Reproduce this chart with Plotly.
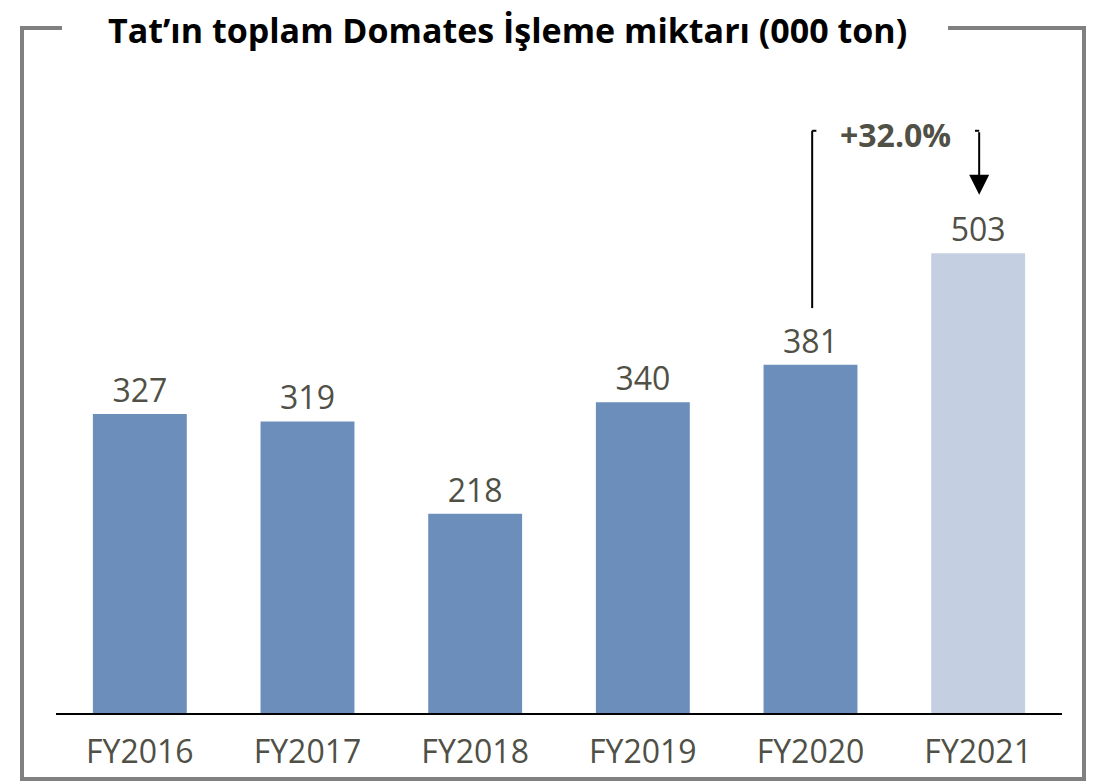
import plotly.graph_objects as go

categories = ["FY2016", "FY2017", "FY2018", "FY2019", "FY2020", "FY2021"]
values = [327, 319, 218, 340, 381, 503]
bar_colors = ["#6C8EBB"] * 5 + ["#C4CFE1"]
title_text = "Tat’ın toplam Domates İşleme miktarı (000 ton)"

# page body has an 8px margin; build figure so it lands where the reference is
OFF = 8
W, H = 1099 - OFF, 782 - OFF
growth = (values[-1] / values[-2] - 1) * 100
growth_text = f"+{growth:.1f}%"

def px(x):
    return (x - OFF) / W

def py(y):
    return 1 - (y - OFF) / H

fig = go.Figure()
fig.add_trace(go.Bar(
    x=list(range(len(categories))),
    y=values,
    marker=dict(color=bar_colors, line=dict(width=0)),
    width=0.56,
    text=[str(v) for v in values],
    textposition="outside",
    textfont=dict(family="Open Sans", size=32, color="#505046"),
    cliponaxis=False,
    hoverinfo="skip",
))

px_per_unit = 0.914
base_px = 713
y_top = (base_px - OFF) / px_per_unit

fig.update_layout(
    width=W, height=H,
    margin=dict(l=0, r=0, t=0, b=0),
    paper_bgcolor="white", plot_bgcolor="white",
    showlegend=False,
    xaxis=dict(domain=[px(56), px(1062)], range=[-0.5, 5.5],
               tickvals=list(range(len(categories))), ticktext=categories,
               tickfont=dict(family="Open Sans", size=32, color="#505046"),
               showline=True, linecolor="black", linewidth=2,
               showgrid=False, zeroline=False, ticks="", ticklen=0,
               ticklabelstandoff=10),
    yaxis=dict(domain=[py(base_px), 1], range=[0, y_top],
               visible=False, showgrid=False, zeroline=False),
)

gray = "#808080"
def pline(x0, y0, x1, y1, color=gray, width=4):
    fig.add_shape(type="line", xref="paper", yref="paper",
                  x0=px(x0), y0=py(y0), x1=px(x1), y1=py(y1),
                  line=dict(color=color, width=width))

# frame with a gap for the title
pline(22, 28, 62, 28)
pline(948, 28, 1085, 28)
pline(22, 26, 22, 781)
pline(1084, 26, 1084, 781)
pline(20, 779, 1086, 779)

fig.add_annotation(xref="paper", yref="paper", x=px(507), y=py(29.5),
                   text=f"<b>{title_text}</b>", showarrow=False,
                   font=dict(family="Open Sans", size=34, color="black"),
                   xanchor="center", yanchor="middle")

# growth bracket
i0, i1 = len(values) - 2, len(values) - 1
bracket_top = values[i1] + 134
left_bottom = values[i0] + 62
right_tip = values[i1] + 64
xl, xr = i0 + 0.01, i1 + 0.006
fig.add_shape(type="line", xref="x", yref="y", x0=xl, x1=xl, y0=left_bottom, y1=bracket_top,
              line=dict(color="black", width=2))
fig.add_shape(type="line", xref="x", yref="y", x0=xl, x1=xl + 0.025, y0=bracket_top, y1=bracket_top,
              line=dict(color="black", width=2))
fig.add_shape(type="line", xref="x", yref="y", x0=xr - 0.025, x1=xr, y0=bracket_top, y1=bracket_top,
              line=dict(color="black", width=2))
fig.add_annotation(xref="x", yref="y", x=xr, y=right_tip, ax=xr, ay=bracket_top,
                   axref="x", ayref="y", showarrow=True, arrowhead=2, arrowsize=2,
                   arrowwidth=2, arrowcolor="black", text="")
fig.add_annotation(xref="x", yref="y", x=(xl + xr) / 2, y=bracket_top - 4,
                   text=f"<b>{growth_text}</b>", showarrow=False,
                   font=dict(family="Open Sans", size=32, color="#505046"),
                   xanchor="center", yanchor="middle")

fig.write_html("out.html")
